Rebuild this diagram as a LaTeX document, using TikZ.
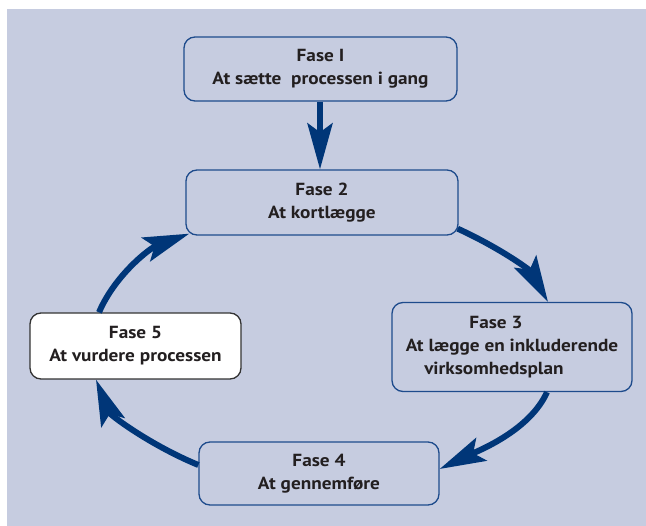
\documentclass[tikz,border=0pt]{standalone}
\usepackage{fontspec}
\setmainfont{PT Sans}[FakeStretch=1.1]
\usetikzlibrary{arrows.meta,calc}
\definecolor{bgc}{RGB}{198,204,224}
\definecolor{arrc}{RGB}{0,54,120}
\definecolor{boxc}{RGB}{30,75,140}
\definecolor{txtc}{RGB}{35,31,32}
\tikzset{
  phase/.style={draw=boxc, line width=1.3pt, rounded corners=11pt, fill=bgc,
    align=center, font=\bfseries\fontsize{17.5}{23}\selectfont, text=txtc, inner sep=0pt},
  flow/.style={draw=arrc, line width=6pt, -{Stealth[length=46pt, width=25pt, inset=9pt]}},
}
\begin{document}
\begin{tikzpicture}[x=1pt, y=-1pt]
\useasboundingbox (0,0) rectangle (646,526);
\fill[bgc] (7,9) rectangle (646,526);
\node[phase, minimum width=273pt, minimum height=64pt] (f1) at (320.5,69) {Fase I\\At sætte\ \ processen i gang};
\node[phase, minimum width=272pt, minimum height=65pt] (f2) at (322,202.5) {Fase 2\\At kortlægge};
\node[phase, minimum width=240pt, minimum height=89pt] (f3) at (512,347) {\hspace*{-32pt}Fase 3\\At lægge en inkluderende\\\hspace*{-36pt}virksomhedsplan};
\node[phase, minimum width=240pt, minimum height=63pt] (f4) at (319,473.5) {Fase 4\\At gennemføre};
\node[phase, fill=white, draw=black!80, minimum width=211pt, minimum height=66pt] (f5) at (135.5,346) {Fase 5\\At vurdere processen};
\draw[flow] (f1.south -| 320,0) -- (f2.north -| 320,0);
\draw[flow] ($(f2.south east)+(-1,-7)$) .. controls (500,248) and (530,270) .. (f3.north -| 548,0);
\draw[flow] (f3.south -| 547,0) .. controls (530,430) and (480,450) .. (f4.east |- 0,469);
\draw[flow] (f4.west |- 0,465) .. controls (150,445) and (110,415) .. (f5.south -| 96,0);
\draw[flow] (f5.north -| 99,0) .. controls (115,275) and (150,248) .. ($(f2.south west)+(4,-2)$);
\end{tikzpicture}
\end{document}
